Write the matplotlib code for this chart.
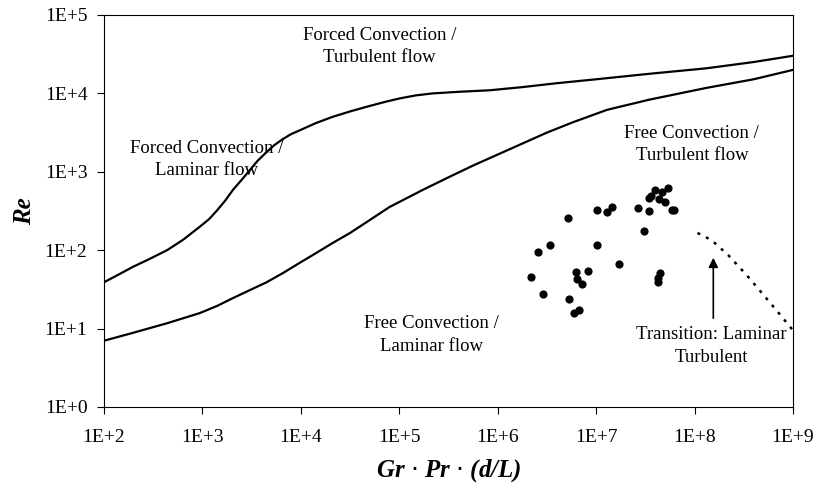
import numpy as np
import matplotlib
matplotlib.use("Agg")
import matplotlib.pyplot as plt

# boundary: forced convection laminar / turbulent (upper curve)
upper_x = [100, 141, 195, 282, 437, 631, 944, 1175, 1413, 1698, 2042, 2512,
           3020, 3631, 4467, 5370, 6607, 7943, 9772, 14125, 20893, 31623,
           46774, 70795, 1e5, 147911, 218776, 398107, 831764, 1.778e6,
           3.981e6, 1e7, 3.467e7, 1.318e8, 3.981e8, 1e9]
upper_re = [39, 49, 61, 76, 100, 135, 200, 251, 324, 427, 589, 794,
            1047, 1380, 1778, 2188, 2630, 3020, 3388, 4169, 5012, 5888,
            6761, 7762, 8610, 9441, 10000, 10471, 10965, 12023,
            13490, 15136, 17783, 20893, 25119, 30200]

# boundary: free / forced convection (lower curve)
lower_x = [100, 195, 437, 944, 1413, 2042, 3020, 4467, 6607, 9772, 14125,
           20893, 31623, 46774, 79433, 173780, 316228, 562341, 1e6, 1.778e6,
           3.162e6, 5.754e6, 1.288e7, 3.467e7, 1.318e8, 3.981e8, 1e9]
lower_re = [7.0, 8.8, 11.7, 15.8, 19.5, 24.5, 30.9, 38.9, 51.3, 69.2, 91.2,
            123, 166, 229, 355, 589, 851, 1202, 1660, 2291,
            3162, 4266, 6166, 8318, 11749, 15136, 19953]

# transition laminar -> turbulent (dotted)
trans_x = [1.07e8, 1.48e8, 2.19e8, 3.39e8, 5.13e8, 7.76e8, 1e9]
trans_re = [166, 135, 87, 48, 26, 14, 9.5]

# measured points
pts_x = [3.41e7, 5.14e6, 1.01e7, 1.28e7, 1.44e7, 2.64e7, 3.41e7, 3.03e7,
         2.55e6, 3.37e6, 1.01e7, 1.69e7, 2.16e6, 6.19e6, 8.2e6, 6.34e6,
         7.13e6, 2.86e6, 5.26e6, 6.64e6, 5.91e6, 4.41e7, 4.21e7, 4.21e7,
         3.6e7, 3.93e7, 4.31e7, 4.63e7, 4.95e7, 5.32e7, 5.84e7, 6.12e7]
pts_re = [463, 258, 326, 307, 356, 345, 316, 176,
          95, 116, 116, 67, 45, 53, 54, 43,
          37, 27.6, 23.9, 17.3, 15.8, 51, 44, 39,
          490, 585, 450, 552, 412, 621, 326, 326]

xticks = [1e2, 1e3, 1e4, 1e5, 1e6, 1e7, 1e8, 1e9]
xticklabels = ['1E+2', '1E+3', '1E+4', '1E+5', '1E+6', '1E+7', '1E+8', '1E+9']
yticks = [1e0, 1e1, 1e2, 1e3, 1e4, 1e5]
yticklabels = ['1E+0', '1E+1', '1E+2', '1E+3', '1E+4', '1E+5']

plt.rcParams['font.family'] = ['Liberation Serif', 'DejaVu Serif']

fig = plt.figure(figsize=(8.16, 4.95), dpi=100)
ax = fig.add_axes([0.1275, 0.1778, 0.8443, 0.7919])

ax.plot(upper_x, upper_re, color='black', lw=1.6)
ax.plot(lower_x, lower_re, color='black', lw=1.6)
ax.plot(trans_x, trans_re, color='black', lw=1.8, linestyle=(0, (1.2, 2.6)))
ax.scatter(pts_x, pts_re, s=24, color='black', zorder=3)

ax.set_xscale('log')
ax.set_yscale('log')
ax.set_xlim(1e2, 1e9)
ax.set_ylim(1e0, 1e5)
ax.set_xticks(xticks)
ax.set_xticklabels(xticklabels)
ax.set_yticks(yticks)
ax.set_yticklabels(yticklabels)
ax.minorticks_off()
ax.tick_params(direction='out', length=5, width=0.8, labelsize=14)
ax.tick_params(axis='x', pad=11)
ax.tick_params(axis='y', pad=7)
for sp in ax.spines.values():
    sp.set_linewidth(0.8)

ax.set_xlabel(r'Gr $\cdot$ Pr $\cdot$ (d/L)', fontsize=18, fontweight='bold',
              fontstyle='italic', labelpad=8)
ax.set_ylabel('Re', fontsize=18, fontweight='bold', fontstyle='italic', labelpad=6)

kw = dict(fontsize=13.5, ha='center', va='center', linespacing=1.4)
ax.text(6.3e4, 4.0e4, 'Forced Convection /\nTurbulent flow', **kw)
ax.text(1.1e3, 1.45e3, 'Forced Convection /\nLaminar flow', **kw)
ax.text(9.4e7, 2.25e3, 'Free Convection /\nTurbulent flow', **kw)
ax.text(2.1e5, 8.3, 'Free Convection /\nLaminar flow', **kw)
ax.text(1.48e8, 6.0, 'Transition: Laminar\nTurbulent', **kw)
ax.annotate('', xy=(1.55e8, 87), xytext=(1.55e8, 12.5),
            arrowprops=dict(arrowstyle='-|>', color='black', lw=1.2,
                            mutation_scale=14))

fig.savefig('out.png', dpi=100)
